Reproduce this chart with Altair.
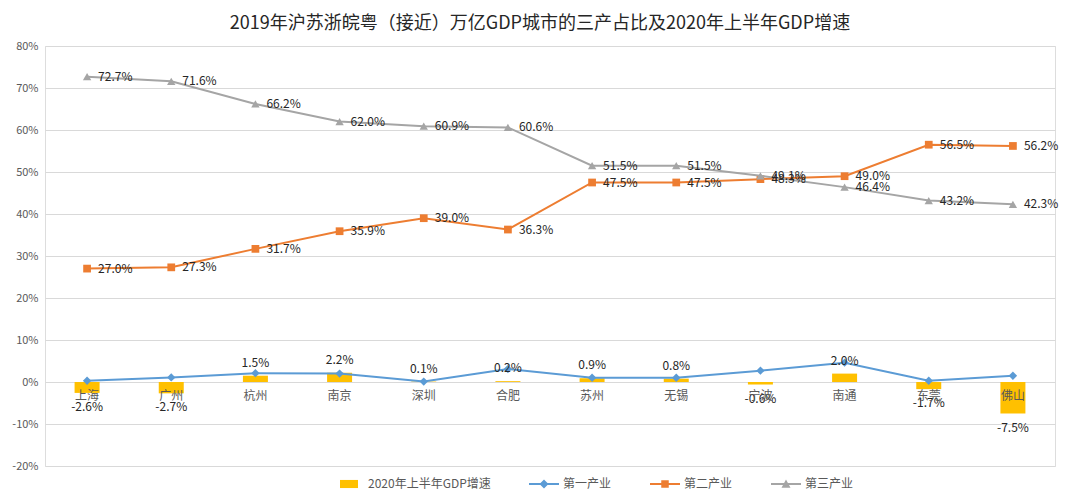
import altair as alt
import pandas as pd

cities = ["上海", "广州", "杭州", "南京", "深圳", "合肥", "苏州", "无锡", "宁波", "南通", "东莞", "佛山"]
gdp_growth = [-2.6, -2.7, 1.5, 2.2, 0.1, 0.2, 0.9, 0.8, -0.6, 2.0, -1.7, -7.5]
primary = [0.3, 1.1, 2.1, 2.0, 0.1, 3.1, 1.0, 1.0, 2.7, 4.6, 0.3, 1.5]
secondary = [27.0, 27.3, 31.7, 35.9, 39.0, 36.3, 47.5, 47.5, 48.3, 49.0, 56.5, 56.2]
tertiary = [72.7, 71.6, 66.2, 62.0, 60.9, 60.6, 51.5, 51.5, 49.1, 46.4, 43.2, 42.3]

series_names = ["2020年上半年GDP增速", "第一产业", "第二产业", "第三产业"]
series_colors = ["#FFC000", "#5B9BD5", "#ED7D31", "#A5A5A5"]
title_text = "2019年沪苏浙皖粤（接近）万亿GDP城市的三产占比及2020年上半年GDP增速"

FONT = "Noto Sans CJK SC"
LBL = "(datum.value < 0 ? '-' : '') + format(abs(datum.value), '.1f') + '%'"

bar_df = pd.DataFrame({"city": cities, "value": gdp_growth, "series": series_names[0]})
line_df = pd.concat([
    pd.DataFrame({"city": cities, "value": primary, "series": series_names[1]}),
    pd.DataFrame({"city": cities, "value": secondary, "series": series_names[2]}),
    pd.DataFrame({"city": cities, "value": tertiary, "series": series_names[3]}),
], ignore_index=True)

color_scale = alt.Scale(domain=series_names, range=series_colors)
line_bar = "M-1,-0.07H1V0.07H-1Z"
shape_scale = alt.Scale(
    domain=series_names,
    range=[
        "M-0.6,-0.27H0.6V0.27H-0.6Z",
        line_bar + "M0,-0.3L0.3,0L0,0.3L-0.3,0Z",
        line_bar + "M-0.25,-0.25H0.25V0.25H-0.25Z",
        line_bar + "M0,-0.3L0.3,0.25L-0.3,0.25Z",
    ],
)

x_enc = alt.X(
    "city:N",
    sort=cities,
    scale=alt.Scale(paddingInner=0, paddingOuter=0),
    axis=alt.Axis(
        title=None, labelAngle=0, domain=False, ticks=False, offset=-84,
        labelPadding=8, zindex=1, labelColor="#595959", labelFontSize=12,
        labelFont=FONT, grid=False,
    ),
)
y_enc = alt.Y(
    "value:Q",
    scale=alt.Scale(domain=[-20, 80], nice=False),
    axis=alt.Axis(
        title=None, values=list(range(-20, 90, 10)), labelExpr="datum.value + '%'",
        domain=False, ticks=False, gridColor="#D9D9D9", labelColor="#595959",
        labelFontSize=11, labelPadding=7, labelFont=FONT,
    ),
)

base_bar = alt.Chart(bar_df)
bars = base_bar.mark_bar(size=25, color=series_colors[0]).encode(x=x_enc, y=y_enc)
bar_lbl_pos = base_bar.transform_filter("datum.value >= 0").transform_calculate(
    lbl=LBL
).mark_text(dy=-13, fontSize=12, font=FONT, color="#262626", baseline="middle").encode(
    x=x_enc, y=y_enc, text="lbl:N"
)
bar_lbl_neg = base_bar.transform_filter("datum.value < 0").transform_calculate(
    lbl=LBL
).mark_text(dy=14, fontSize=12, font=FONT, color="#262626", baseline="middle").encode(
    x=x_enc, y=y_enc, text="lbl:N"
)

base_line = alt.Chart(line_df)
marker_shapes = {series_names[1]: ("diamond", 70), series_names[2]: ("square", 60), series_names[3]: ("triangle-up", 70)}
line_layers = []
for s in series_names[1:]:
    shp, sz = marker_shapes[s]
    col = series_colors[series_names.index(s)]
    line_layers.append(
        base_line.transform_filter(alt.datum.series == s).mark_line(
            strokeWidth=2, color=col,
            point=alt.OverlayMarkDef(shape=shp, size=sz, filled=True, color=col, opacity=1),
        ).encode(x=x_enc, y=y_enc)
    )

line_labels = base_line.transform_filter(
    alt.FieldOneOfPredicate(field="series", oneOf=series_names[2:])
).transform_calculate(
    lbl=LBL
).mark_text(dx=11, align="left", baseline="middle", fontSize=12, font=FONT, color="#262626").encode(
    x=x_enc, y=y_enc, text="lbl:N"
)

leg = dict(
    title=None, orient="none", direction="horizontal", legendX=289, legendY=423,
    symbolSize=900, labelFontSize=12, labelColor="#595959", labelFont=FONT,
    columnPadding=38, labelOffset=4, symbolOpacity=1, symbolStrokeWidth=0,
)
legend_layer = base_line.transform_filter("false").mark_point(filled=True, opacity=1).encode(
    x=x_enc, y=y_enc,
    color=alt.Color("series:N", scale=color_scale, legend=alt.Legend(**leg)),
    shape=alt.Shape("series:N", scale=shape_scale, legend=alt.Legend(**leg)),
)

chart = alt.layer(
    bars, *line_layers, bar_lbl_pos, bar_lbl_neg, line_labels, legend_layer
).properties(
    width=1010,
    height=420,
    autosize=alt.AutoSizeParams(type="none"),
    padding={"left": 37, "top": 38, "right": 10, "bottom": 28},
    title=alt.TitleParams(
        title_text, fontSize=18, fontWeight="normal", color="#262626",
        font=FONT, anchor="middle", offset=7, dx=-10,
    ),
).configure_view(stroke=None).configure(font=FONT, background="white")

chart.save("out.html", embed_options={"renderer": "svg", "actions": False})
